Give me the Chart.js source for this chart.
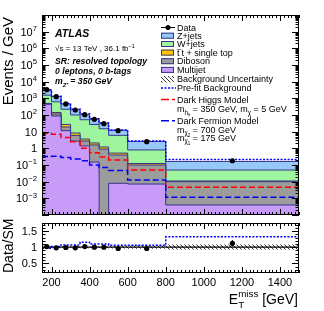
<!DOCTYPE html>
<html><head><meta charset="utf-8">
<script src="https://cdn.jsdelivr.net/npm/chart.js@4/dist/chart.umd.min.js"></script>
<style>
html,body{margin:0;padding:0;background:#fff;}
#wrap{position:relative;width:324px;height:311px;overflow:hidden;}
canvas{position:absolute;left:0;top:0;}
</style></head><body>
<div id="wrap"><canvas id="main" width="324" height="311"></canvas><canvas id="ratio" width="324" height="311"></canvas></div>
<script>
// ---------------- data ----------------
const binEdges   = [150,200,250,300,350,400,450,500,600,800,1500];
const binCenters = [175,225,275,325,375,425,475,550,700,1150];
const dataEvents = [3300,1260,460,200,105,55,30,11.5,2.5,0.18];
const dataErr    = [25,16,9,6,4,3,2.3,1,0.3,0.016];
const zjets      = [1690,670,240,104,51,28,15,6,1.8,0.113];
const wjets      = [1060,478,193,92,48.4,24.9,13.8,5.5,0.677,0.039];
const ttbar      = [30,27,8,2.3,0.85,0.5,0.3,0.12,0.023,0.001];
const diboson    = [20,28,7.6,3.25,1.35,1.45,0.9,0.39,0.093,0.0096];
const multijet   = [440,87,11.5,2.75,1.4,0.15,0,0.008,0.0072,0.0004];
const darkHiggs  = [8,7,4.5,2.5,1.0,0.55,0.3,0.2,0.05,0.0046];
const darkFermion= [0.32,0.34,0.28,0.23,0.18,0.1,0.07,0.046,0.0126,0.00115];
const prefitRatio= [0.97,1.02,1.07,1.07,1.15,1.1,1.1,1.06,1.06,1.32];
const smRatio    = [1,1,1,1,1,1,1,1,1,1];
const bkgUncRel  = [0.03,0.03,0.03,0.03,0.03,0.03,0.03,0.04,0.05,0.08];
const dataRatio  = [1.02,0.98,0.99,0.98,1.02,1.0,1.0,0.96,0.96,1.12];
const dataRatioErr=[0.01,0.015,0.02,0.03,0.04,0.05,0.06,0.05,0.06,0.1];
const xTickLabels = [200,400,600,800,1000,1200,1400];
const yDecades    = [-3,-2,-1,0,1,2,3,4,5,6,7];
const ratioTickLabels = [0.5,1,1.5];

// ---------------- style ----------------
const FONT = '"Liberation Sans", Arial, Helvetica, sans-serif';
const C_Z='#96c8f8', C_W='#9ef59e', C_TT='#ffc800', C_VV='#9c9c9c', C_MJ='#c99bf8', C_LINE='#35358a';
const L=42, R=299, MT=15, MB=215, RT=223, RB=273;
const YMIN=1e-4, YMAX=1e8;

// helpers
function steps(vals){ const p=vals.map((v,i)=>({x:binEdges[i],y:Math.max(v,YMIN)})); p.push({x:binEdges[binEdges.length-1],y:Math.max(vals[vals.length-1],YMIN)}); return p; }
function stepsLin(vals){ const p=vals.map((v,i)=>({x:binEdges[i],y:v})); p.push({x:binEdges[binEdges.length-1],y:vals[vals.length-1]}); return p; }
function cum(){ const arrs=[...arguments]; return arrs[0].map((_,i)=>arrs.reduce((s,a)=>s+a[i],0)); }
function hatch(){ const c=document.createElement('canvas'); c.width=4;c.height=4; const x=c.getContext('2d'); x.strokeStyle='#000'; x.lineWidth=0.8; x.beginPath(); x.moveTo(0,0);x.lineTo(4,4); x.moveTo(-1,3);x.lineTo(1,5); x.moveTo(3,-1);x.lineTo(5,1); x.stroke(); return x.createPattern(c,'repeat'); }

function drawRuns(ctx, parts, x, y, size, style, align){
  const ms=[]; let w=0;
  for(const p of parts){
    const s=size*(p.s||1); ctx.font=`${style} ${s}px ${FONT}`;
    const mw=ctx.measureText(p.t).width; let adv=mw;
    if(p.over){ ctx.font=`${style} ${size*(p.overS||0.7)}px ${FONT}`; adv=Math.max(adv,ctx.measureText(p.over).width); }
    ms.push([s,mw,adv]); w+=adv;
  }
  let cx = align==='right'? x-w : align==='center'? x-w/2 : x;
  parts.forEach((p,i)=>{ const [s,mw,adv]=ms[i];
    ctx.font=`${style} ${s}px ${FONT}`; ctx.fillText(p.t,cx,y+(p.dy||0)*size);
    if(p.over){ ctx.font=`${style} ${size*(p.overS||0.7)}px ${FONT}`; ctx.fillText(p.over,cx,y+(p.overDy||-0.45)*size); }
    cx+=adv; });
  return w;
}

const stTop = cum(zjets,wjets,ttbar,diboson,multijet);
const stW   = cum(wjets,ttbar,diboson,multijet);
const stTT  = cum(ttbar,diboson,multijet);
const stVV  = cum(diboson,multijet);
const stMJ  = multijet.slice();
const prefit = stTop.map((v,i)=>v*prefitRatio[i]);

function stackDS(vals,color,order){ return {data:steps(vals),stepped:'before',fill:'start',backgroundColor:color,borderColor:C_LINE,borderWidth:1,pointRadius:0,order}; }

const mainChart = new Chart(document.getElementById('main'),{
  type:'line',
  data:{datasets:[
    stackDS(stTop,C_Z,20), stackDS(stW,C_W,19), stackDS(stTT,C_TT,18), stackDS(stVV,C_VV,17), stackDS(stMJ,C_MJ,16),
    {data:steps(prefit),stepped:'before',fill:false,borderColor:'#0000ff',borderWidth:1.5,borderDash:[2,1.5],pointRadius:0,order:5},
    {data:steps(darkHiggs),stepped:'before',fill:false,borderColor:'#ff0000',borderWidth:1.5,borderDash:[6,3],pointRadius:0,order:4},
    {data:steps(darkFermion),stepped:'before',fill:false,borderColor:'#0000ee',borderWidth:1.5,borderDash:[6,3],pointRadius:0,order:3},
    {data:binCenters.map((x,i)=>({x,y:dataEvents[i]})),showLine:false,pointRadius:2.6,pointBackgroundColor:'#000',pointBorderColor:'#000',pointBorderWidth:0,order:1}
  ]},
  options:{responsive:false,animation:false,devicePixelRatio:1,
    layout:{padding:{left:L,top:MT,right:324-R,bottom:311-MB}},
    scales:{x:{type:'linear',min:150,max:1500,display:false},y:{type:'logarithmic',min:YMIN,max:YMAX,display:false}},
    plugins:{legend:{display:false},tooltip:{enabled:false}}},
  plugins:[{id:'bg',beforeDraw(ch){const c=ch.ctx;c.save();c.fillStyle='#fff';c.fillRect(0,0,324,311);c.restore();},
    afterDatasetsDraw(ch){
      const c=ch.ctx, xs=ch.scales.x, ys=ch.scales.y;
      c.save(); c.strokeStyle='#000'; c.lineWidth=1;
      binCenters.forEach((x,i)=>{ const px=xs.getPixelForValue(x); c.beginPath(); c.moveTo(px,ys.getPixelForValue(dataEvents[i]-dataErr[i])); c.lineTo(px,ys.getPixelForValue(dataEvents[i]+dataErr[i])); c.stroke(); });
      c.restore();
    },
    afterDraw(ch){
      const c=ch.ctx, xs=ch.scales.x, ys=ch.scales.y;
      c.save();
      c.strokeStyle='#000'; c.lineWidth=1; c.strokeRect(L+0.5,MT+0.5,R-L-1,MB-MT-1);
      c.beginPath();
      for(let v=160; v<=1500; v+=20){ const px=Math.round(xs.getPixelForValue(v))+0.5; const len=(v%200===0)?6:3; c.moveTo(px,MB); c.lineTo(px,MB-len); c.moveTo(px,MT); c.lineTo(px,MT+len); }
      for(let e=-4;e<8;e++){ for(let m=1;m<10;m++){ const v=m*Math.pow(10,e); const py=Math.round(ys.getPixelForValue(v))+0.5; const len=(m===1)?7:3.5; c.moveTo(L,py);c.lineTo(L+len,py); c.moveTo(R,py);c.lineTo(R-len,py);} }
      c.stroke();
      c.fillStyle='#000'; c.textBaseline='alphabetic';
      yDecades.forEach(e=>{ const py=ys.getPixelForValue(Math.pow(10,e)); const base=py+4;
        let parts = e===0?[{t:'1'}]: e===1?[{t:'10'}]:[{t:'10'},{t:String(e).replace('-','\u2212'),s:0.7,dy:-0.42}];
        drawRuns(c,parts,37,base,11,'',"right"); });
      c.save(); c.translate(13,17); c.rotate(-Math.PI/2); c.font=`15px ${FONT}`; c.textAlign='right'; c.fillText('Events / GeV',0,0); c.restore();
      c.textAlign='left';
      drawRuns(c,[{t:'ATLAS'}],55,37,10.5,'italic bold','left');
      drawRuns(c,[{t:'\u221As = 13 TeV , 36.1 fb'},{t:'\u22121',s:0.7,dy:-0.42}],55,51,8,'','left');
      drawRuns(c,[{t:'SR: resolved topology'}],55,64,8.7,'italic bold','left');
      drawRuns(c,[{t:'0 leptons, 0 b-tags'}],55,74,8.7,'italic bold','left');
      drawRuns(c,[{t:'m'},{t:'Z\u2032',s:0.7,dy:0.3},{t:' = 350 GeV'}],55,84,8.7,'italic bold','left');
      const lx=161, lw=13, tx=177, fs=9;
      const row=(y,parts)=>drawRuns(c,parts,tx,y+3.2,fs,'','left');
      c.strokeStyle='#000'; c.lineWidth=1; c.beginPath(); c.moveTo(lx,27.5); c.lineTo(lx+14,27.5); c.stroke();
      c.beginPath(); c.arc(lx+7,27.5,2.5,0,2*Math.PI); c.fill(); row(27.3,[{t:'Data'}]);
      const box=(y,col)=>{ c.fillStyle=col; c.fillRect(lx,y-3,lw,6); c.strokeStyle=C_LINE; c.lineWidth=1; c.strokeRect(lx+0.5,y-3+0.5,lw-1,6-1); c.fillStyle='#000'; };
      box(35.7,C_Z); row(35.7,[{t:'Z+jets'}]);
      box(44,C_W); row(44,[{t:'W+jets'}]);
      box(52.6,C_TT); row(52.6,[{t:'t',over:'\u2013',overS:0.9,overDy:-0.55},{t:'t + single top'}]);
      box(61.2,C_VV); row(61.2,[{t:'Diboson'}]);
      box(69.9,C_MJ); row(69.9,[{t:'Multijet'}]);
      c.fillStyle=hatch(); c.fillRect(lx,76,lw,6.5); c.fillStyle='#000'; row(79.2,[{t:'Background Uncertainty'}]);
      c.strokeStyle='#0000ff'; c.lineWidth=1.5; c.setLineDash([2,1.5]); c.beginPath(); c.moveTo(lx,88); c.lineTo(lx+15,88); c.stroke(); c.setLineDash([]);
      row(88,[{t:'Pre-fit Background'}]);
      c.strokeStyle='#ff0000'; c.setLineDash([8,3]); c.beginPath(); c.moveTo(lx,99.5); c.lineTo(lx+14,99.5); c.stroke(); c.setLineDash([]);
      row(99.3,[{t:'Dark Higgs Model'}]);
      row(109,[{t:'m'},{t:'h',s:0.7,dy:0.28},{t:'s',s:0.5,dy:0.45},{t:' = 350 GeV, m'},{t:'\u03C7',s:0.7,dy:0.28},{t:' = 5 GeV'}]);
      c.strokeStyle='#0000ee'; c.setLineDash([8,3]); c.beginPath(); c.moveTo(lx,120.7); c.lineTo(lx+14,120.7); c.stroke(); c.setLineDash([]);
      row(120.7,[{t:'Dark Fermion Model'}]);
      row(129.5,[{t:'m'},{t:'\u03C7',s:0.7,dy:0.28},{t:'2',s:0.5,dy:0.45},{t:' = 700 GeV'}]);
      row(137.5,[{t:'m'},{t:'\u03C7',s:0.7,dy:0.28},{t:'1',s:0.5,dy:0.45},{t:' = 175 GeV'}]);
      c.restore();
    }}]
});

const ratioChart = new Chart(document.getElementById('ratio'),{
  type:'line',
  data:{datasets:[
    {data:stepsLin(bkgUncRel.map((u,i)=>smRatio[i]+u)),stepped:'before',fill:'+1',backgroundColor:hatch(),borderWidth:0,pointRadius:0,order:10},
    {data:stepsLin(bkgUncRel.map((u,i)=>smRatio[i]-u)),stepped:'before',fill:false,borderWidth:0,pointRadius:0,order:9},
    {data:stepsLin(smRatio),stepped:'before',fill:false,borderColor:'#000',borderWidth:1.2,pointRadius:0,order:5},
    {data:stepsLin(prefitRatio),stepped:'before',fill:false,borderColor:'#0000ff',borderWidth:1.5,borderDash:[2,1.5],pointRadius:0,order:4},
    {data:binCenters.map((x,i)=>({x,y:dataRatio[i]})),showLine:false,pointRadius:2.6,pointBackgroundColor:'#000',pointBorderWidth:0,order:1}
  ]},
  options:{responsive:false,animation:false,devicePixelRatio:1,
    layout:{padding:{left:L,top:RT,right:324-R,bottom:311-RB}},
    scales:{x:{type:'linear',min:150,max:1500,display:false},y:{type:'linear',min:0.2,max:1.75,display:false}},
    plugins:{legend:{display:false},tooltip:{enabled:false}}},
  plugins:[{id:'rdeco',
    afterDatasetsDraw(ch){
      const c=ch.ctx, xs=ch.scales.x, ys=ch.scales.y;
      c.save(); c.strokeStyle='#000'; c.lineWidth=1;
      binCenters.forEach((x,i)=>{ const px=xs.getPixelForValue(x); c.beginPath(); c.moveTo(px,ys.getPixelForValue(dataRatio[i]-dataRatioErr[i])); c.lineTo(px,ys.getPixelForValue(dataRatio[i]+dataRatioErr[i])); c.stroke(); });
      c.restore();
    },
    afterDraw(ch){
      const c=ch.ctx, xs=ch.scales.x, ys=ch.scales.y;
      c.save();
      c.strokeStyle='#000'; c.lineWidth=1; c.strokeRect(L+0.5,RT+0.5,R-L-1,RB-RT-1);
      c.beginPath();
      for(let v=160; v<=1500; v+=20){ const px=Math.round(xs.getPixelForValue(v))+0.5; const len=(v%200===0)?6:3; c.moveTo(px,RB); c.lineTo(px,RB-len); c.moveTo(px,RT); c.lineTo(px,RT+len); }
      for(let v=0.3; v<=1.71; v+=0.1){ const vv=Math.round(v*10)/10; const py=Math.round(ys.getPixelForValue(vv))+0.5; const len=(Math.abs(vv*2-Math.round(vv*2))<1e-6)?7:3.5; c.moveTo(L,py);c.lineTo(L+len,py); c.moveTo(R,py);c.lineTo(R-len,py); }
      c.stroke();
      c.fillStyle='#000'; c.textBaseline='alphabetic';
      ratioTickLabels.forEach(v=>{ drawRuns(c,[{t:String(v)}],37,ys.getPixelForValue(v)+4,11,'','right'); });
      xTickLabels.forEach(v=>{ drawRuns(c,[{t:String(v)}],xs.getPixelForValue(v),286,11,'','center'); });
      c.save(); c.translate(13,RB); c.rotate(-Math.PI/2); c.font=`14px ${FONT}`; c.textAlign='left'; c.fillText('Data/SM',0,0); c.restore();
      drawRuns(c,[{t:'E'},{t:'T',s:0.7,dy:0.3,over:'miss',overS:0.7,overDy:-0.5},{t:' [GeV]'}],298,304,14,'','right');
      c.restore();
    }}]
});
</script></body></html>
